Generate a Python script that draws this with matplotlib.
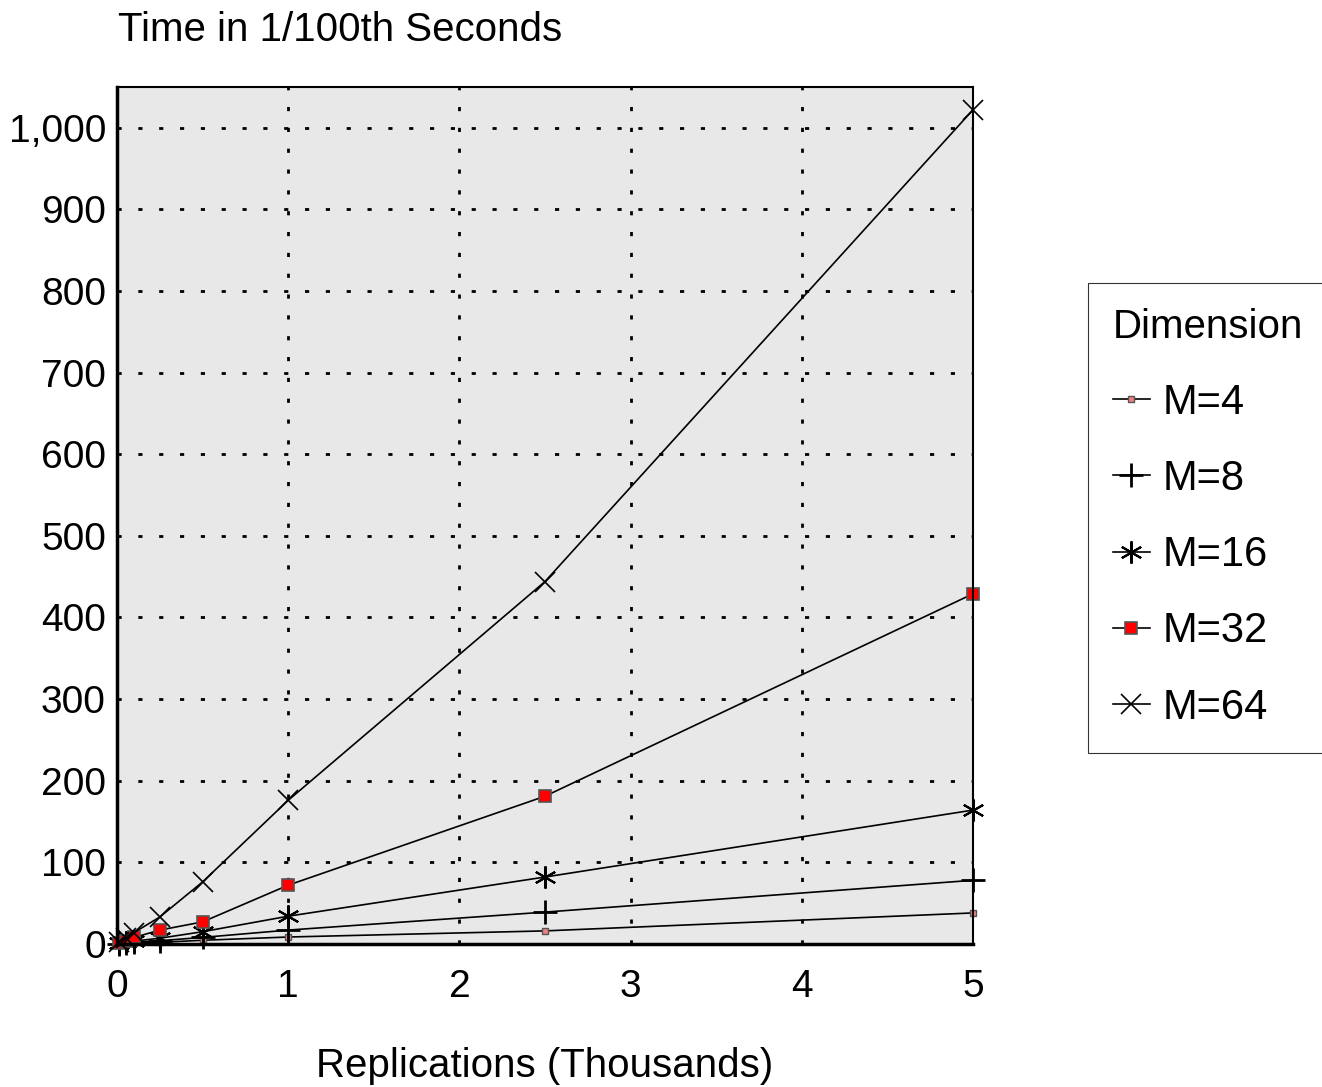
import matplotlib.pyplot as plt
from matplotlib.ticker import FuncFormatter

plt.rcParams['font.family'] = ['Liberation Sans', 'DejaVu Sans']

# replications in thousands
reps = [0.01, 0.05, 0.1, 0.25, 0.5, 1, 2.5, 5]

# time in 1/100th seconds, per dimension
m4 = [0.3, 0.5, 1, 2, 4.5, 8.5, 16, 38]
m8 = [0.5, 1, 2, 4, 8, 17, 39, 78]
m16 = [1, 2, 3.5, 7, 15, 34, 82, 164]
m32 = [1.5, 4, 8, 17, 27, 72, 181, 429]
m64 = [3, 7, 14, 33, 76, 176, 444, 1022]

labels = ["M=4", "M=8", "M=16", "M=32", "M=64"]

fig = plt.figure(figsize=(13.22, 10.87), dpi=100)
ax = fig.add_axes([0.0885, 0.1316, 0.6475, 0.7884])
ax.set_facecolor('#e8e8e8')

lw = 1.2
kw = dict(color='black', lw=lw, clip_on=False)
ax.plot(reps, m4, marker='s', ms=5, mfc='#f08080', mec='#555555', mew=1, label=labels[0], **kw)
ax.plot(reps, m8, marker='+', ms=17, mew=2, label=labels[1], **kw)
ax.plot(reps, m16, marker=(6, 2, 0), ms=16, mew=1.5, label=labels[2], **kw)
ax.plot(reps, m32, marker='s', ms=8.5, mfc='#ff0000', mec='#555555', mew=1.2, label=labels[3], **kw)
ax.plot(reps, m64, marker='x', ms=14, mew=1.2, label=labels[4], **kw)

ax.set_xlim(0, 5)
ax.set_ylim(0, 1050)
ax.set_xticks([0, 1, 2, 3, 4, 5])
ax.set_yticks(range(0, 1001, 100))
ax.yaxis.set_major_formatter(FuncFormatter(lambda v, p: f"{int(v):,}"))
ax.tick_params(length=0, labelsize=28)
ax.tick_params(axis='x', pad=18)
ax.tick_params(axis='y', pad=8)
ax.grid(True, color='black', linestyle=(0, (1.5, 6)), linewidth=2)

for s in ['left', 'bottom']:
    ax.spines[s].set_linewidth(2.5)
for s in ['top', 'right']:
    ax.spines[s].set_linewidth(1.5)

ax.set_xlabel("Replications (Thousands)", fontsize=29, labelpad=30)
fig.text(0.089, 0.955, "Time in 1/100th Seconds", fontsize=29, ha='left', va='bottom')

leg = ax.legend(loc='center left', bbox_to_anchor=(1.134, 0.497), borderaxespad=0,
                title="Dimension", fontsize=30, title_fontsize=29, frameon=True,
                fancybox=False, edgecolor='black', handlelength=0.9,
                handletextpad=0.3, labelspacing=0.87, borderpad=0.6)
leg.get_frame().set_linewidth(0.8)
leg._legend_box.align = 'left'

fig.savefig("out.png", dpi=100)
